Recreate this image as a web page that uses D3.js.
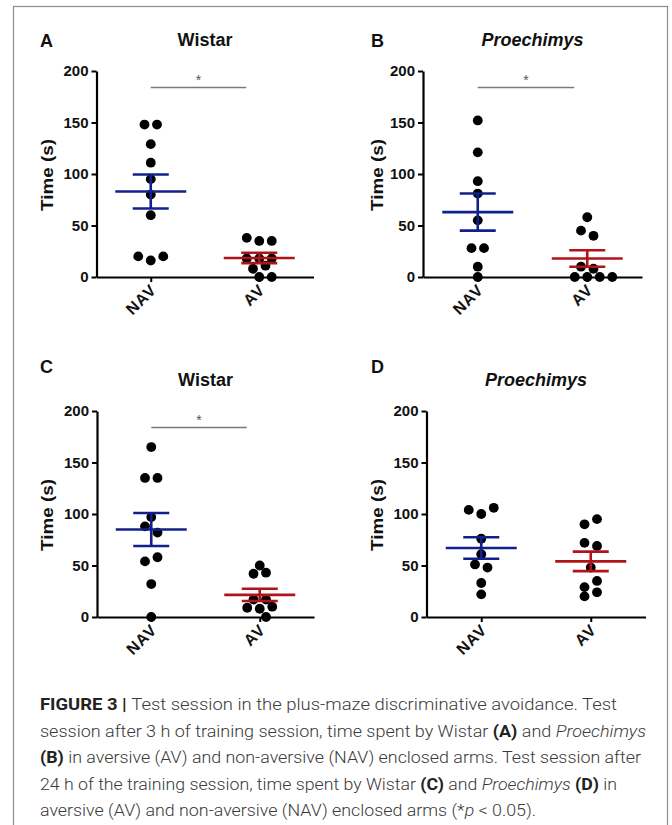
<!DOCTYPE html>
<html>
<head>
<meta charset="utf-8">
<script src="https://cdn.jsdelivr.net/npm/d3@7"></script>
<style>
  body { margin: 0; background: #fff; }
  svg { display: block; }
</style>
</head>
<body>
<script>
// categories and ticks
const categories = ["NAV", "AV"];
const yTicks = [0, 50, 100, 150, 200];
const panelLetters = ["A", "B", "C", "D"];
const panelTitles = ["Wistar", "Proechimys", "Wistar", "Proechimys"];
const titleItalic = [false, true, false, true];
const significant = [true, true, true, false];

// individual animals (row by row, left to right)
const navValues = [
  [148, 148, 129, 111, 95, 80, 60, 20, 16, 20],
  [152, 121, 93, 81, 55, 28, 28, 10, 0],
  [165, 135, 135, 97, 88, 82, 54, 58, 32, 0],
  [104, 100, 106, 76, 61, 51, 48, 33, 22]
];
const avValues = [
  [38, 35, 35, 18, 18, 18, 8, 11, 0, 0],
  [58, 45, 40, 10, 8, 0, 0, 0, 0],
  [50, 42, 43, 17, 17, 9, 8, 10, 0],
  [90, 95, 72, 69, 48, 29, 35, 20, 24]
];
// mean +/- SEM as drawn
const navMeans = [83, 63, 85, 67];
const navSems = [16.5, 18, 16, 10.5];
const avMeans = [18.5, 18, 21.5, 54];
const avSems = [5, 8, 6, 9.5];

const captionLines = [
  [["FIGURE 3 | ", "b"], ["Test session in the plus-maze discriminative avoidance. Test", ""]],
  [["session after 3 h of training session, time spent by Wistar ", ""], ["(A)", "b"], [" and ", ""], ["Proechimys", "i"]],
  [["(B)", "b"], [" in aversive (AV) and non-aversive (NAV) enclosed arms. Test session after", ""]],
  [["24 h of the training session, time spent by Wistar ", ""], ["(C)", "b"], [" and ", ""], ["Proechimys", "i"], [" ", ""], ["(D)", "b"], [" in", ""]],
  [["aversive (AV) and non-aversive (NAV) enclosed arms (*", ""], ["p", "i"], [" < 0.05).", ""]]
];
const captionWidths = [577, 606, 601, 577, 496];

const W = 672, H = 825;
const NAVY = "#12208c", RED = "#b0141a";

const svg = d3.select("body").append("svg")
  .attr("width", W).attr("height", H)
  .style("font-family", "'Liberation Sans', Arial, sans-serif");

svg.append("rect").attr("x", 13.5).attr("y", 6.5)
  .attr("width", 654).attr("height", 840)
  .attr("fill", "#fff").attr("stroke", "#8c8c8c").attr("stroke-width", 1.2);

const panels = [
  { x: 96.5, y: 71, w: 217 },
  { x: 423, y: 71, w: 219 },
  { x: 97, y: 411, w: 217 },
  { x: 426.5, y: 411, w: 219 }
];
const PH = 206;
const letterX = [40, 371, 40, 371];
const letterY = [47, 47, 373, 373];
const titleY = [46, 46, 386, 386];
const R = 4.9, STEP = 12.5;

// simple row swarm: group close values into rows, centre each row,
// nudge a row sideways if it would overlap a dot already placed
function swarm(values, y) {
  const rows = [];
  values.forEach(v => {
    const last = rows[rows.length - 1];
    if (last && Math.abs(v - last[0]) <= 7) last.push(v);
    else rows.push([v]);
  });
  const placed = [];
  rows.forEach(row => {
    const base = row.map((v, i) => ({ v, dx: (i - (row.length - 1) / 2) * STEP }));
    const shifts = [0, STEP / 2, -STEP / 2, STEP, -STEP];
    for (const s of shifts) {
      const ok = base.every(b => placed.every(p =>
        Math.hypot(b.dx + s - p.dx, y(b.v) - y(p.v)) >= 2 * R - 0.6));
      if (ok || s === shifts[shifts.length - 1]) {
        base.forEach(b => placed.push({ v: b.v, dx: b.dx + s }));
        break;
      }
    }
  });
  return placed;
}

panels.forEach((p, k) => {
  const g = svg.append("g").attr("transform", `translate(${p.x},${p.y})`);
  const x = d3.scalePoint().domain(categories).range([0, p.w]).padding(0.5);
  const y = d3.scaleLinear().domain([0, 200]).range([PH, 0]);

  // axes
  const ya = g.append("g").call(d3.axisLeft(y).tickValues(yTicks).tickSize(5).tickSizeOuter(0).tickPadding(3));
  ya.select(".domain").attr("stroke-width", 2.2);
  ya.selectAll(".tick line").attr("stroke-width", 2);
  ya.selectAll("text").attr("font-size", 15).attr("font-weight", "bold").attr("fill", "#111")
    .attr("font-family", "'Liberation Sans', Arial, sans-serif");

  const xa = g.append("g").attr("transform", `translate(0,${PH})`)
    .call(d3.axisBottom(x).tickSize(5).tickSizeOuter(0));
  xa.select(".domain").attr("stroke-width", 2.2);
  xa.selectAll(".tick line").attr("stroke-width", 2);
  xa.selectAll("text")
    .attr("x", 0).attr("y", 0).attr("dy", 0)
    .attr("text-anchor", "end")
    .attr("transform", "translate(6,14) rotate(-45)")
    .attr("font-size", 16).attr("font-weight", "bold").attr("fill", "#111")
    .attr("letter-spacing", 0.8)
    .attr("font-family", "'Liberation Sans', Arial, sans-serif");

  // y label
  g.append("text")
    .attr("transform", `translate(${53 - p.x + (k % 2 ? 330 : 0)},${PH / 2 + 1}) rotate(-90)`)
    .attr("text-anchor", "middle")
    .attr("font-size", 16).attr("font-weight", "bold").attr("fill", "#111")
    .attr("textLength", 72).attr("lengthAdjust", "spacingAndGlyphs")
    .text("Time (s)");

  // panel letter and title
  svg.append("text").attr("x", letterX[k]).attr("y", letterY[k])
    .attr("font-size", 18).attr("font-weight", "bold").attr("fill", "#111")
    .text(panelLetters[k]);
  svg.append("text").attr("x", p.x + p.w / 2).attr("y", titleY[k])
    .attr("text-anchor", "middle")
    .attr("font-size", 18).attr("font-weight", "bold").attr("fill", "#111")
    .attr("font-style", titleItalic[k] ? "italic" : "normal")
    .text(panelTitles[k]);

  // dots
  const groups = [
    { cat: "NAV", vals: navValues[k], mean: navMeans[k], sem: navSems[k], col: NAVY },
    { cat: "AV", vals: avValues[k], mean: avMeans[k], sem: avSems[k], col: RED }
  ];
  groups.forEach(gr => {
    const pts = swarm(gr.vals, y);
    g.append("g").selectAll("circle").data(pts).join("circle")
      .attr("cx", d => x(gr.cat) + d.dx)
      .attr("cy", d => y(d.v))
      .attr("r", R)
      .attr("fill", "#000");
  });
  groups.forEach(gr => {
    const cx = x(gr.cat);
    const eg = g.append("g").attr("stroke", gr.col).attr("stroke-width", 2.6);
    eg.append("line").attr("x1", cx - 35.5).attr("x2", cx + 35.5)
      .attr("y1", y(gr.mean)).attr("y2", y(gr.mean));
    eg.append("line").attr("x1", cx).attr("x2", cx)
      .attr("y1", y(gr.mean - gr.sem)).attr("y2", y(gr.mean + gr.sem));
    [gr.mean - gr.sem, gr.mean + gr.sem].forEach(v => {
      eg.append("line").attr("x1", cx - 18).attr("x2", cx + 18)
        .attr("y1", y(v)).attr("y2", y(v));
    });
  });

  // significance bar
  if (significant[k]) {
    const yb = y(184);
    g.append("line").attr("x1", x("NAV")).attr("x2", x("AV") - 13)
      .attr("y1", yb).attr("y2", yb)
      .attr("stroke", "#7a7a7a").attr("stroke-width", 1.6);
    g.append("text").attr("x", (x("NAV") + x("AV") - 13) / 2).attr("y", yb - 2)
      .attr("text-anchor", "middle").attr("font-size", 14).attr("fill", "#555")
      .text("*");
  }
});

// caption
const cap = svg.append("g").attr("fill", "#3a3a3a")
  .style("font-family", "Roboto, 'Liberation Sans', sans-serif");
captionLines.forEach((line, i) => {
  const t = cap.append("text")
    .attr("x", 40).attr("y", 710 + i * 26.5)
    .attr("font-size", 17).attr("font-weight", 300)
    .attr("textLength", captionWidths[i]).attr("lengthAdjust", "spacingAndGlyphs");
  line.forEach(([s, st]) => {
    t.append("tspan")
      .attr("font-weight", st === "b" ? "bold" : 300)
      .attr("font-style", st === "i" ? "italic" : "normal")
      .attr("fill", st === "b" ? "#222" : null)
      .text(s);
  });
});
</script>
</body>
</html>
